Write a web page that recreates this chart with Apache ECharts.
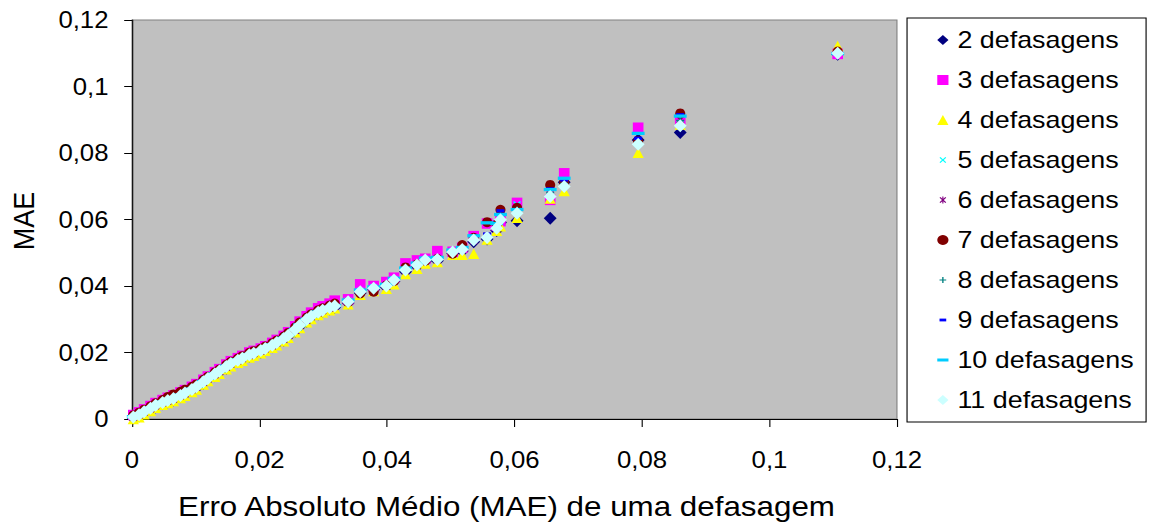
<!DOCTYPE html>
<html>
<head>
<meta charset="utf-8">
<script src="https://cdn.jsdelivr.net/npm/echarts@6/dist/echarts.min.js"></script>
<style>
  html, body { margin: 0; padding: 0; background: #fff; overflow: hidden; }
  #wrap { width: 1150px; height: 523px; overflow: hidden; }
  /* chart is laid out slightly narrower and widened horizontally, like the wide Excel export */
  #chart { width: 1027px; height: 523px; transform: scaleX(1.1198); transform-origin: 0 0; }
</style>
</head>
<body>
<div id="wrap"><div id="chart"></div></div>
<script>
// MAE of a single lag (x) shared by every series
const maeUmaDefasagem = [
  0.0002,0.0011,0.0019,0.0029,0.0037,0.0048,0.0056,0.0065,0.0076,0.0083,0.0094,0.0101,
  0.0112,0.0119,0.0130,0.0137,0.0148,0.0155,0.0166,0.0173,0.0184,0.0191,0.0202,0.0209,
  0.0220,0.0227,0.0238,0.0245,0.0256,0.0263,0.0274,0.0281,0.0292,0.0299,0.0310,0.0318,
  0.0339,0.0358,0.0379,0.0399,0.0411,0.0429,0.0447,0.0460,0.0479,0.0503,0.0518,0.0536,
  0.0557,0.0572,0.0578,0.0604,0.0656,0.0678,0.0794,0.0860,0.1107
];

// MAE obtained with 2 ... 11 lags
const mae2 = [
  0.0003,0.0009,0.0018,0.0028,0.0036,0.0046,0.0051,0.0057,0.0067,0.0073,0.0085,0.0093,
  0.0107,0.0118,0.0130,0.0140,0.0153,0.0163,0.0172,0.0179,0.0188,0.0194,0.0201,0.0208,
  0.0217,0.0226,0.0237,0.0248,0.0264,0.0278,0.0294,0.0305,0.0316,0.0323,0.0331,0.0336,
  0.0349,0.0379,0.0389,0.0396,0.0414,0.0443,0.0459,0.0474,0.0476,0.0498,0.0505,0.0533,
  0.0541,0.0567,0.0591,0.0596,0.0604,0.0712,0.0839,0.0862,0.1097
];
const mae3 = [
  0.0012,0.0020,0.0029,0.0039,0.0048,0.0057,0.0064,0.0071,0.0080,0.0087,0.0097,0.0105,
  0.0118,0.0128,0.0141,0.0150,0.0164,0.0174,0.0183,0.0190,0.0200,0.0205,0.0212,0.0219,
  0.0229,0.0238,0.0250,0.0261,0.0279,0.0293,0.0309,0.0320,0.0333,0.0339,0.0347,0.0356,
  0.0360,0.0405,0.0400,0.0412,0.0425,0.0468,0.0477,0.0482,0.0505,0.0503,0.0515,0.0550,
  0.0588,0.0582,0.0595,0.0650,0.0659,0.0739,0.0876,0.0899,0.1098
];
const mae4 = [
  0.0000,0.0005,0.0014,0.0024,0.0034,0.0043,0.0048,0.0054,0.0063,0.0070,0.0081,0.0089,
  0.0104,0.0114,0.0127,0.0136,0.0150,0.0159,0.0169,0.0175,0.0185,0.0190,0.0198,0.0205,
  0.0214,0.0222,0.0234,0.0244,0.0261,0.0274,0.0291,0.0301,0.0313,0.0320,0.0327,0.0333,
  0.0345,0.0374,0.0385,0.0392,0.0405,0.0436,0.0452,0.0468,0.0472,0.0494,0.0494,0.0497,
  0.0540,0.0566,0.0580,0.0605,0.0663,0.0686,0.0801,0.0886,0.1122
];
const mae5 = [
  0.0007,0.0014,0.0024,0.0033,0.0042,0.0052,0.0058,0.0064,0.0072,0.0080,0.0090,0.0099,
  0.0113,0.0124,0.0136,0.0146,0.0159,0.0169,0.0178,0.0185,0.0194,0.0200,0.0207,0.0214,
  0.0223,0.0232,0.0243,0.0254,0.0270,0.0284,0.0300,0.0311,0.0322,0.0329,0.0336,0.0342,
  0.0355,0.0385,0.0395,0.0402,0.0420,0.0450,0.0466,0.0480,0.0483,0.0504,0.0513,0.0541,
  0.0549,0.0577,0.0602,0.0645,0.0672,0.0703,0.0829,0.0886,0.1102
];
const mae6 = [
  0.0004,0.0011,0.0020,0.0030,0.0039,0.0048,0.0053,0.0059,0.0069,0.0075,0.0087,0.0094,
  0.0109,0.0120,0.0132,0.0142,0.0155,0.0164,0.0174,0.0181,0.0190,0.0196,0.0203,0.0210,
  0.0219,0.0228,0.0239,0.0250,0.0266,0.0280,0.0296,0.0307,0.0318,0.0325,0.0333,0.0338,
  0.0351,0.0381,0.0391,0.0398,0.0416,0.0446,0.0461,0.0476,0.0478,0.0500,0.0508,0.0536,
  0.0551,0.0572,0.0610,0.0625,0.0675,0.0705,0.0832,0.0900,0.1101
];
const mae7 = [
  0.0011,0.0019,0.0028,0.0038,0.0047,0.0057,0.0066,0.0074,0.0082,0.0088,0.0097,0.0104,
  0.0118,0.0127,0.0140,0.0149,0.0163,0.0172,0.0182,0.0189,0.0199,0.0204,0.0211,0.0218,
  0.0228,0.0236,0.0248,0.0259,0.0276,0.0290,0.0305,0.0315,0.0327,0.0333,0.0341,0.0347,
  0.0352,0.0378,0.0383,0.0402,0.0415,0.0456,0.0465,0.0476,0.0482,0.0497,0.0523,0.0545,
  0.0592,0.0585,0.0629,0.0635,0.0704,0.0712,0.0835,0.0919,0.1105
];
const mae8 = [
  0.0006,0.0012,0.0022,0.0031,0.0041,0.0049,0.0055,0.0061,0.0070,0.0077,0.0088,0.0096,
  0.0111,0.0121,0.0134,0.0144,0.0157,0.0166,0.0176,0.0182,0.0192,0.0197,0.0205,0.0211,
  0.0221,0.0229,0.0241,0.0251,0.0268,0.0281,0.0298,0.0308,0.0320,0.0326,0.0334,0.0339,
  0.0352,0.0382,0.0392,0.0399,0.0417,0.0447,0.0462,0.0477,0.0479,0.0501,0.0509,0.0537,
  0.0552,0.0576,0.0612,0.0628,0.0680,0.0708,0.0833,0.0898,0.1100
];
const mae9 = [
  0.0008,0.0015,0.0024,0.0034,0.0043,0.0052,0.0058,0.0064,0.0073,0.0080,0.0091,0.0099,
  0.0114,0.0124,0.0137,0.0146,0.0160,0.0169,0.0179,0.0185,0.0195,0.0200,0.0208,0.0214,
  0.0224,0.0232,0.0244,0.0254,0.0271,0.0284,0.0301,0.0311,0.0323,0.0329,0.0337,0.0342,
  0.0356,0.0386,0.0395,0.0403,0.0421,0.0451,0.0466,0.0481,0.0484,0.0506,0.0514,0.0548,
  0.0556,0.0583,0.0626,0.0628,0.0692,0.0719,0.0844,0.0915,0.1102
];
const mae10 = [
  0.0007,0.0014,0.0023,0.0033,0.0042,0.0051,0.0057,0.0063,0.0072,0.0079,0.0090,0.0098,
  0.0113,0.0123,0.0136,0.0145,0.0159,0.0168,0.0178,0.0184,0.0194,0.0199,0.0207,0.0213,
  0.0223,0.0231,0.0243,0.0253,0.0270,0.0283,0.0300,0.0310,0.0322,0.0328,0.0336,0.0341,
  0.0358,0.0388,0.0397,0.0405,0.0423,0.0454,0.0469,0.0484,0.0486,0.0508,0.0516,0.0551,
  0.0590,0.0588,0.0615,0.0630,0.0690,0.0724,0.0859,0.0911,0.1099
];
const mae11 = [
  0.0006,0.0013,0.0022,0.0032,0.0041,0.0050,0.0056,0.0062,0.0071,0.0078,0.0089,0.0097,
  0.0112,0.0122,0.0135,0.0144,0.0158,0.0167,0.0177,0.0183,0.0193,0.0198,0.0206,0.0212,
  0.0222,0.0230,0.0242,0.0252,0.0269,0.0282,0.0299,0.0309,0.0321,0.0327,0.0335,0.0340,
  0.0353,0.0383,0.0393,0.0400,0.0418,0.0448,0.0463,0.0478,0.0480,0.0502,0.0510,0.0538,
  0.0546,0.0574,0.0599,0.0619,0.0669,0.0699,0.0826,0.0882,0.1100
];

const seriesNames = ['2 defasagens','3 defasagens','4 defasagens','5 defasagens','6 defasagens',
                     '7 defasagens','8 defasagens','9 defasagens','10 defasagens','11 defasagens'];
const seriesValues = [mae2, mae3, mae4, mae5, mae6, mae7, mae8, mae9, mae10, mae11];
const axisTicks = [0, 0.02, 0.04, 0.06, 0.08, 0.1, 0.12];

// Excel-style marker shapes; the corner points keep every path in a 10x10 box
const SYM_X = 'path://M0,0L0,0M10,10L10,10M2,2.8L2.8,2L5,4.2L7.2,2L8,2.8L5.8,5L8,7.2L7.2,8L5,5.8L2.8,8L2,7.2L4.2,5Z';
const SYM_STAR = 'path://M0,0L0,0M10,10L10,10M2,2.8L2.8,2L5,4.2L7.2,2L8,2.8L5.8,5L8,7.2L7.2,8L5,5.8L2.8,8L2,7.2L4.2,5Z' +
                 'M4.5,1.5L5.5,1.5L5.5,8.5L4.5,8.5Z';
const SYM_PLUS = 'path://M0,0L0,0M10,10L10,10M4.4,2L5.6,2L5.6,4.4L8,4.4L8,5.6L5.6,5.6L5.6,8L4.4,8L4.4,5.6L2,5.6L2,4.4L4.4,4.4Z';
const SYM_DASH_S = 'path://M0,0L0,0M10,10L10,10M2,3.6L8,3.6L8,6.4L2,6.4Z';
const SYM_DASH_L = 'path://M0,0L0,0M10,10L10,10M0,3.5L10,3.5L10,6.5L0,6.5Z';

const markers = [
  { symbol: 'diamond',  size: [11.5, 13],  color: '#000080' },
  { symbol: 'rect',     size: [9.5, 10.5], color: '#FF00FF' },
  { symbol: 'triangle', size: [10, 10.5],  color: '#FFFF00' },
  { symbol: SYM_X,      size: [12, 12],    color: '#00FFFF' },
  { symbol: SYM_STAR,   size: [12, 12],    color: '#800080' },
  { symbol: 'circle',   size: [9, 10],     color: '#800000' },
  { symbol: SYM_PLUS,   size: [12, 12],    color: '#008080' },
  { symbol: SYM_DASH_S, size: [12, 12],    color: '#0000FF' },
  { symbol: SYM_DASH_L, size: [11.5, 11],  color: '#00CCFF' },
  { symbol: 'diamond',  size: [11.5, 13],  color: '#CCFFFF' }
];

const FONT = '"Liberation Sans", Arial, sans-serif';
const decimalComma = v => String(+(+v).toFixed(4)).replace('.', ',');

const chart = echarts.init(document.getElementById('chart'), null, { renderer: 'svg' });

const series = seriesNames.map((name, i) => ({
  name,
  type: 'scatter',
  symbol: markers[i].symbol,
  symbolSize: markers[i].size,
  itemStyle: { color: markers[i].color, opacity: 1 },
  emphasis: { disabled: true },
  silent: true,
  data: maeUmaDefasagem.map((x, k) => [x, seriesValues[i][k]])
}));

chart.setOption({
  animation: false,
  backgroundColor: '#ffffff',
  grid: {
    left: 117.9, right: 226, top: 20, bottom: 104,
    show: true, backgroundColor: '#C0C0C0', borderColor: '#808080', borderWidth: 1
  },
  xAxis: {
    type: 'value', min: axisTicks[0], max: axisTicks[axisTicks.length - 1], interval: 0.02,
    axisLine: { show: true, onZero: false, lineStyle: { color: '#000', width: 1 } },
    axisTick: { show: true, length: 8, lineStyle: { color: '#000', width: 1 } },
    splitLine: { show: false },
    axisLabel: { formatter: decimalComma, fontSize: 23, fontFamily: FONT, color: '#000', margin: 29 }
  },
  yAxis: {
    type: 'value', min: axisTicks[0], max: axisTicks[axisTicks.length - 1], interval: 0.02,
    axisLine: { show: true, onZero: false, lineStyle: { color: '#000', width: 1 } },
    axisTick: { show: true, length: 7, lineStyle: { color: '#000', width: 1 } },
    splitLine: { show: false },
    axisLabel: { formatter: decimalComma, fontSize: 23, fontFamily: FONT, color: '#000', margin: 21 }
  },
  legend: {
    orient: 'vertical', left: 810, top: 18,
    backgroundColor: '#ffffff', borderColor: '#000', borderWidth: 1, borderRadius: 0,
    padding: [10, 11, 10, 27],
    itemGap: 16, itemWidth: 10, itemHeight: 10,
    selectedMode: false,
    textStyle: { fontSize: 24, lineHeight: 24, fontFamily: FONT, color: '#000', padding: [0, 0, 0, 3] },
    data: seriesNames
  },
  graphic: [
    {
      type: 'text', x: 452.3, y: 506, silent: true,
      style: { text: 'Erro Absoluto Médio (MAE) de uma defasagem', fontSize: 28, fontFamily: FONT,
               fill: '#000', align: 'center', verticalAlign: 'middle' }
    },
    {
      type: 'text', x: 20.5, y: 221, rotation: Math.PI / 2, silent: true,
      style: { text: 'MAE', fontSize: 27, fontFamily: FONT, fill: '#000',
               align: 'center', verticalAlign: 'middle' }
    }
  ],
  series
});
</script>
</body>
</html>
